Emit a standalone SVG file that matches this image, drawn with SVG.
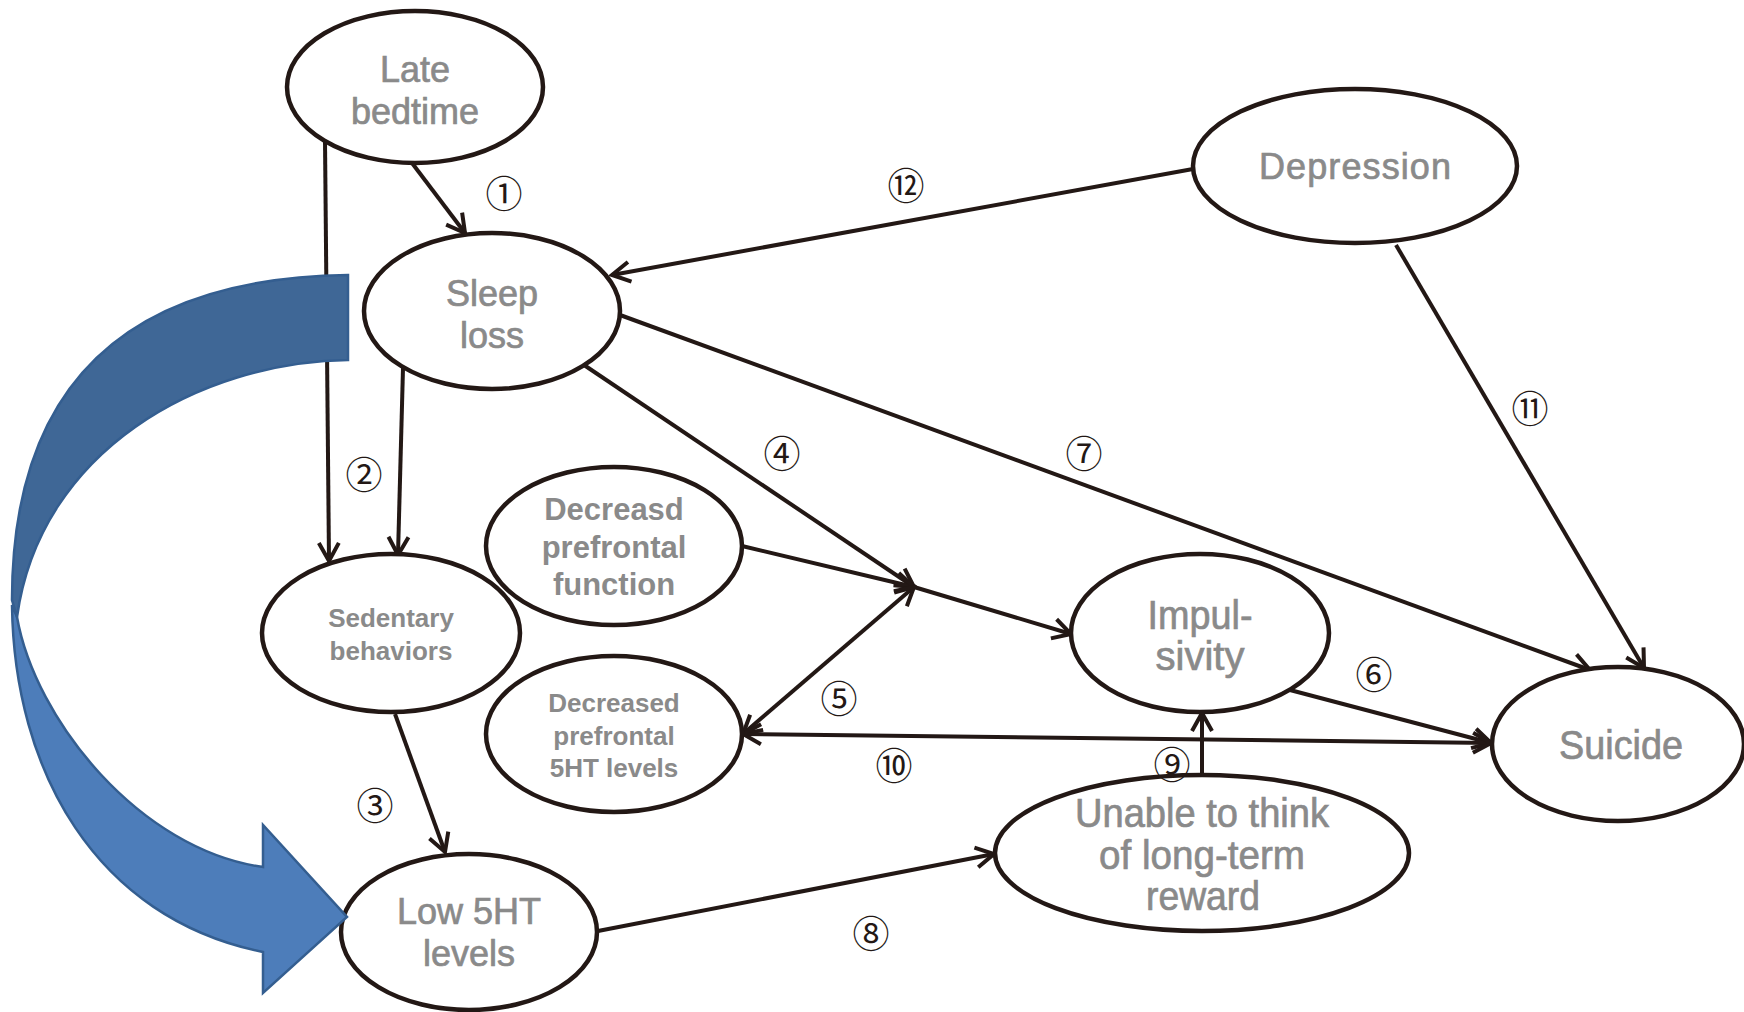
<svg xmlns="http://www.w3.org/2000/svg" width="1744" height="1012" viewBox="0 0 1744 1012">
<style>
.n ellipse{fill:#fff;stroke:#231815;stroke-width:4.5}
.t{font-family:"Liberation Sans",Arial,sans-serif;fill:#8a8a8a;stroke:#8a8a8a;stroke-width:0.7;text-anchor:middle;font-size:36px}
.b{font-weight:bold;stroke-width:0}
.k{font-size:40px}
.c line{stroke:#231815;stroke-width:4;fill:none}
.l{font-family:"Noto Sans CJK JP","DejaVu Sans",sans-serif;font-size:37px;fill:#231815;text-anchor:middle;dominant-baseline:central}
</style>
<defs>
<marker id="a" viewBox="0 0 26 26" refX="23" refY="13" markerWidth="26" markerHeight="26" orient="auto-start-reverse" markerUnits="userSpaceOnUse">
<path d="M5,3 L23,13 L5,23" fill="none" stroke="#231815" stroke-width="4"/>
</marker>
</defs>
<rect width="1744" height="1012" fill="#fff"/>
<g class="c">
<line x1="412" y1="163" x2="465" y2="233" marker-end="url(#a)"/>
<line x1="325" y1="141" x2="329" y2="561" marker-end="url(#a)"/>
<line x1="403" y1="368" x2="398" y2="555" marker-end="url(#a)"/>
<line x1="395" y1="714" x2="445" y2="852" marker-end="url(#a)"/>
<line x1="584" y1="365" x2="914" y2="587" marker-end="url(#a)"/>
<line x1="742" y1="546" x2="914" y2="587" marker-end="url(#a)"/>
<line x1="914" y1="587" x2="1071" y2="634" marker-end="url(#a)"/>
<line x1="914" y1="587" x2="743" y2="734" marker-start="url(#a)" marker-end="url(#a)"/>
<line x1="1290" y1="690" x2="1491" y2="743" marker-end="url(#a)"/>
<line x1="743" y1="734" x2="1491" y2="743" marker-start="url(#a)" marker-end="url(#a)"/>
<line x1="620" y1="315" x2="1590" y2="670" marker-end="url(#a)"/>
<line x1="598" y1="931" x2="994" y2="854" marker-end="url(#a)"/>
<line x1="1202" y1="775" x2="1202" y2="713" marker-end="url(#a)"/>
<line x1="1396" y1="245" x2="1644" y2="668" marker-end="url(#a)"/>
<line x1="1193" y1="169" x2="612" y2="275" marker-end="url(#a)"/>
</g>
<g id="late-bedtime" class="n"><ellipse cx="415" cy="87" rx="128" ry="76"/><text class="t" x="415" y="82">Late</text><text class="t" x="415" y="124">bedtime</text></g>
<g id="sleep-loss" class="n"><ellipse cx="492" cy="311" rx="128" ry="78"/><text class="t" x="492" y="306">Sleep</text><text class="t" x="492" y="348">loss</text></g>
<g id="depression" class="n"><ellipse cx="1355" cy="166" rx="162" ry="77"/><text class="t" x="1355" y="179" textLength="192" lengthAdjust="spacing">Depression</text></g>
<g id="sedentary" class="n"><ellipse cx="391" cy="633" rx="129" ry="79"/><text class="t b" x="391" y="627" style="font-size:26px">Sedentary</text><text class="t b" x="391" y="660" style="font-size:26px">behaviors</text></g>
<g id="dec-function" class="n"><ellipse cx="614" cy="546" rx="128" ry="79"/><text class="t b" x="614" y="520" style="font-size:31px">Decreasd</text><text class="t b" x="614" y="558" style="font-size:31px">prefrontal</text><text class="t b" x="614" y="595" style="font-size:31px">function</text></g>
<g id="dec-5ht" class="n"><ellipse cx="614" cy="734" rx="128" ry="78"/><text class="t b" x="614" y="712" style="font-size:26px">Decreased</text><text class="t b" x="614" y="745" style="font-size:26px">prefrontal</text><text class="t b" x="614" y="777" style="font-size:26px">5HT levels</text></g>
<g id="impulsivity" class="n"><ellipse cx="1200" cy="633" rx="129" ry="79"/><text class="t k" x="1200" y="629" textLength="105" lengthAdjust="spacingAndGlyphs">Impul-</text><text class="t k" x="1200" y="670" textLength="89" lengthAdjust="spacingAndGlyphs">sivity</text></g>
<g id="suicide" class="n"><ellipse cx="1618" cy="744" rx="126" ry="77"/><text class="t k" x="1621" y="759" textLength="124" lengthAdjust="spacingAndGlyphs">Suicide</text></g>
<g id="unable" class="n"><ellipse cx="1202" cy="853" rx="207" ry="78"/><text class="t k" x="1202" y="827" textLength="254" lengthAdjust="spacingAndGlyphs">Unable to think</text><text class="t k" x="1202" y="869" textLength="206" lengthAdjust="spacingAndGlyphs">of long-term</text><text class="t k" x="1203" y="910" textLength="114" lengthAdjust="spacingAndGlyphs">reward</text></g>
<g id="low-5ht" class="n"><ellipse cx="469" cy="932" rx="128" ry="78"/><text class="t" x="469" y="924">Low 5HT</text><text class="t" x="469" y="966">levels</text></g>
<g id="labels">
<text class="l" x="504" y="192">①</text>
<text class="l" x="364" y="473">②</text>
<text class="l" x="375" y="804">③</text>
<text class="l" x="782" y="452">④</text>
<text class="l" x="839" y="697">⑤</text>
<text class="l" x="1374" y="673">⑥</text>
<text class="l" x="1084" y="452">⑦</text>
<text class="l" x="871" y="932">⑧</text>
<text class="l" x="1172" y="763">⑨</text>
<text class="l" x="894" y="764">⑩</text>
<text class="l" x="1530" y="407">⑪</text>
<text class="l" x="906" y="184">⑫</text>
</g>
<g id="blue-arrow" stroke="#345e90" stroke-width="2.5" stroke-linejoin="miter">
<path d="M17,617 C35,720 140,850 263,867 L263,825 L347,917 L263,993 L263,952 C95,918 14,770 12,605 Z" fill="#4d7dba"/>
<path d="M348,275 L348,360 C200,362 40,450 17,617 L12,600 C12,390 120,278 348,275 Z" fill="#3f6796"/>
</g>
</svg>
